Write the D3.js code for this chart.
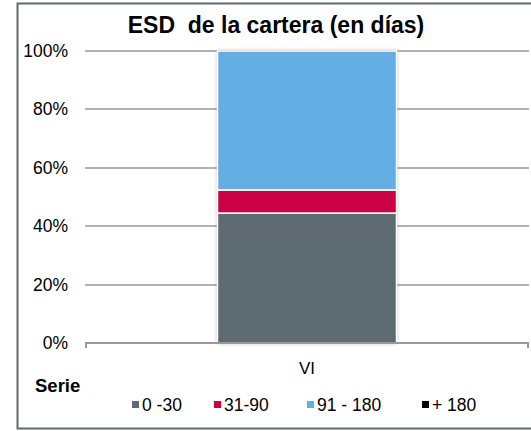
<!DOCTYPE html>
<html lang="es">
<head>
    <meta charset="UTF-8">
    <title>ESD de la cartera</title>
    <script src="https://d3js.org/d3.v7.min.js"></script>
    <style>
        body { margin: 0; background: #fff; }
        text { font-family: "Liberation Sans", Arial, sans-serif; fill: #000; }
    </style>
</head>
<body>
    <svg id="chart" width="531" height="431"></svg>
    <script>
        // Data
        const categories = ["VI"];
        const seriesNames = ["0 -30", "31-90", "91 - 180", "+ 180"];
        const seriesColors = ["#5f6b73", "#cc0044", "#63aee2", "#000000"];
        const seriesValues = [
            [0.445],   // 0 -30
            [0.079],   // 31-90
            [0.476],   // 91 - 180
            [0.0]      // + 180
        ];
        const yTicks = [0, 0.2, 0.4, 0.6, 0.8, 1.0];

        const svg = d3.select("#chart");
        const margin = { left: 85, right: 2, top: 51, bottom: 88 };
        const W = 531, H = 431;

        // Outer frame (right edge falls outside the picture)
        svg.append("rect")
            .attr("x", 17.5).attr("y", 3.5)
            .attr("width", 520).attr("height", 425)
            .attr("fill", "#fff")
            .attr("stroke", "#5f6b73")
            .attr("stroke-width", 2);

        const x = d3.scaleBand()
            .domain(categories)
            .range([margin.left, W - margin.right])
            .paddingInner(0).paddingOuter(0.74);

        const y = d3.scaleLinear()
            .domain([0, 1])
            .range([H - margin.bottom, margin.top]);

        // Gridlines
        svg.append("g")
            .selectAll("line")
            .data(yTicks.filter(d => d > 0))
            .enter().append("line")
            .attr("x1", margin.left).attr("x2", W - margin.right)
            .attr("y1", d => Math.round(y(d)))
            .attr("y2", d => Math.round(y(d)))
            .attr("stroke", "#999")
            .attr("stroke-width", 1.6);

        // Y labels
        svg.append("g")
            .selectAll("text")
            .data(yTicks)
            .enter().append("text")
            .attr("x", 68)
            .attr("y", d => y(d) + 6)
            .attr("text-anchor", "end")
            .attr("font-size", 17.5)
            .text(d => d3.format(".0%")(d));

        // Stack
        const rows = categories.map((c, i) => {
            const r = { cat: c };
            seriesNames.forEach((s, j) => r[s] = seriesValues[j][i]);
            return r;
        });
        const stacked = d3.stack().keys(seriesNames)(rows);

        const defs = svg.append("defs");
        const filter = defs.append("filter").attr("id", "shadow")
            .attr("x", "-10%").attr("y", "-10%").attr("width", "120%").attr("height", "120%");
        filter.append("feDropShadow")
            .attr("dx", 0).attr("dy", 0).attr("stdDeviation", 2)
            .attr("flood-color", "#000").attr("flood-opacity", 0.3);

        const barG = svg.append("g");
        categories.forEach(c => {
            barG.append("rect")
                .attr("x", x(c)).attr("width", x.bandwidth())
                .attr("y", y(1)).attr("height", y(0) - y(1))
                .attr("fill", "#fff")
                .attr("filter", "url(#shadow)");
        });

        barG.selectAll("g.series")
            .data(stacked)
            .enter().append("g")
            .attr("fill", (d, i) => seriesColors[i])
            .selectAll("rect")
            .data(d => d.filter(p => p[1] - p[0] > 0))
            .enter().append("rect")
            .attr("x", d => x(d.data.cat))
            .attr("width", x.bandwidth())
            .attr("y", d => y(d[1]))
            .attr("height", d => y(d[0]) - y(d[1]))
            .attr("stroke", "#fff")
            .attr("stroke-width", 1.5);

        // X axis line with end ticks
        const axisY = Math.round(y(0));
        svg.append("path")
            .attr("d", `M${margin.left + 1},${axisY + 5}V${axisY}H${W - margin.right - 1}V${axisY + 5}`)
            .attr("fill", "none")
            .attr("stroke", "#999")
            .attr("stroke-width", 2);

        svg.append("g")
            .selectAll("text")
            .data(categories)
            .enter().append("text")
            .attr("x", d => x(d) + x.bandwidth() / 2)
            .attr("y", 374)
            .attr("text-anchor", "middle")
            .attr("font-size", 17)
            .text(d => d);

        // Title
        svg.append("text")
            .attr("x", 276).attr("y", 33)
            .attr("text-anchor", "middle")
            .attr("font-size", 23)
            .attr("font-weight", "bold")
            .attr("xml:space", "preserve")
            .text("ESD  de la cartera (en días)");

        svg.append("text")
            .attr("x", 35).attr("y", 392)
            .attr("font-size", 18.5)
            .attr("font-weight", "bold")
            .text("Serie");

        // Legend
        const legendX = [132, 214, 307, 422];
        const legend = svg.append("g")
            .selectAll("g")
            .data(seriesNames)
            .enter().append("g")
            .attr("transform", (d, i) => `translate(${legendX[i]},411)`);
        legend.append("rect")
            .attr("x", 0).attr("y", -10)
            .attr("width", 7).attr("height", 7)
            .attr("fill", (d, i) => seriesColors[i]);
        legend.append("text")
            .attr("x", 10).attr("y", 0)
            .attr("font-size", 17.5)
            .attr("xml:space", "preserve")
            .text(d => d);
    </script>
</body>
</html>
